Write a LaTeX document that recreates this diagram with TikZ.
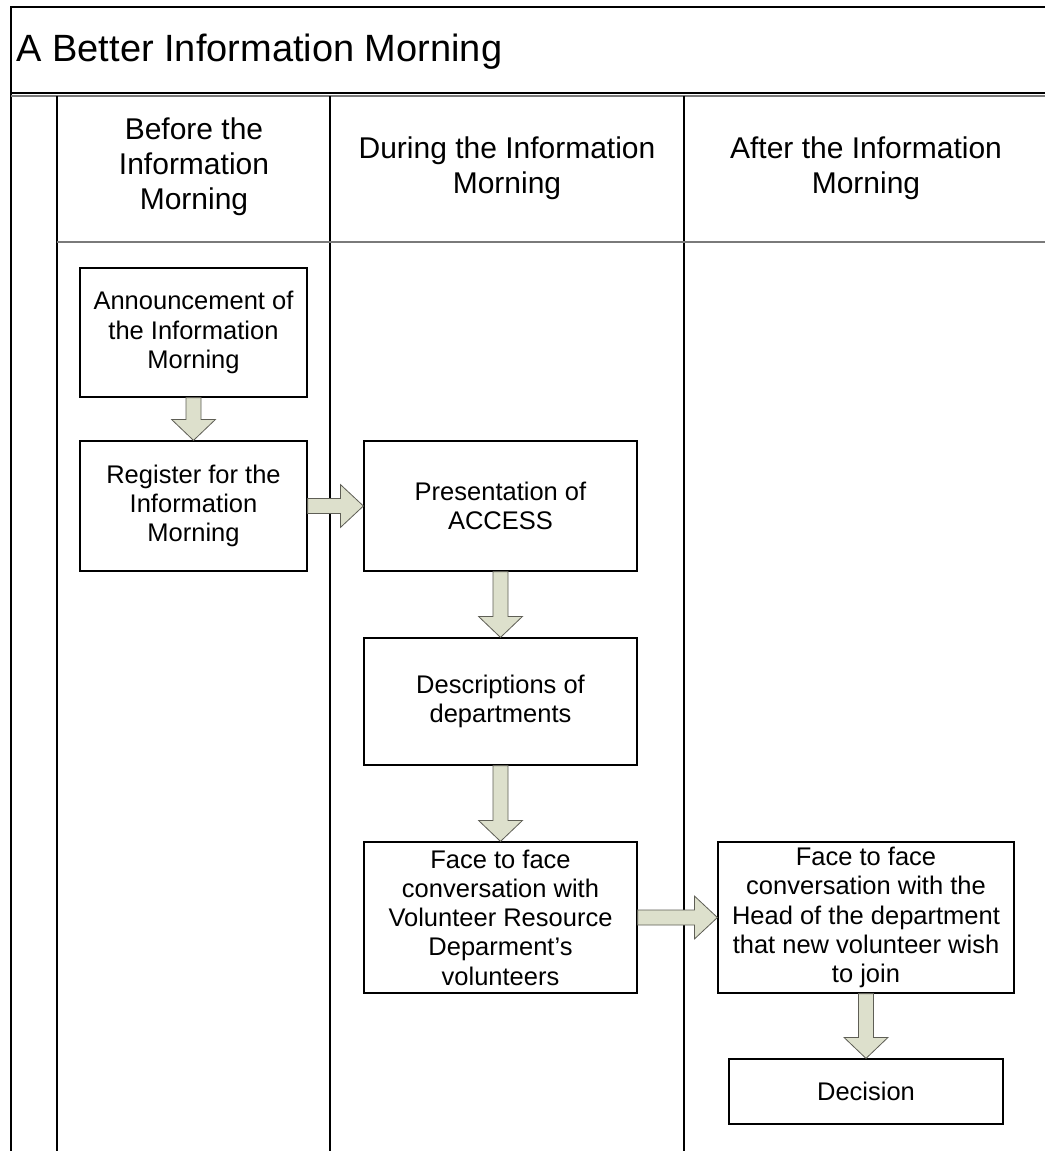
\documentclass[tikz,border=0pt]{standalone}
\usepackage{fontspec}
\setmainfont{Liberation Sans}
\usetikzlibrary{calc}
\definecolor{arrowfill}{HTML}{DDE0CC}
\definecolor{arrowedge}{HTML}{5E5E55}
\definecolor{rulegray}{HTML}{7A7A7A}
\tikzset{
  box/.style={draw=black, line width=1.2pt, fill=white, align=center, inner sep=0pt,
    font=\fontsize{25.5}{29.3}\selectfont},
  lanehead/.style={align=center, font=\fontsize{30}{35}\selectfont},
  blockarrow/.style={fill=arrowfill, draw=arrowedge, line width=0.8pt, line join=miter},
  frameline/.style={line width=1.8pt, black},
  laneline/.style={line width=1.6pt, black},
}
% wide block arrows between two named boxes
\newcommand\downblock[2]{%
  \path[blockarrow] let \p1=(#1.south), \p2=(#2.north) in
    (\x1-7.5pt,\y1) -- (\x1+7.5pt,\y1) -- (\x1+7.5pt,\y2+21pt) -- (\x1+22pt,\y2+21pt)
    -- (\x1,\y2) -- (\x1-22pt,\y2+21pt) -- (\x1-7.5pt,\y2+21pt) -- cycle;}
\newcommand\rightblock[2]{%
  \path[blockarrow] let \p1=(#1.east), \p2=(#2.west) in
    (\x1,\y1+7.5pt) -- (\x2-23pt,\y1+7.5pt) -- (\x2-23pt,\y1+21.5pt) -- (\x2,\y1)
    -- (\x2-23pt,\y1-21.5pt) -- (\x2-23pt,\y1-7.5pt) -- (\x1,\y1-7.5pt) -- cycle;}
\begin{document}
\begin{tikzpicture}[x=1pt,y=-1pt]
\useasboundingbox (0,0) rectangle (1045,1151);
\fill[white] (0,0) rectangle (1045,1151);

% outer frame and title band
\draw[frameline] (11,1151) -- (11,7) -- (1045,7);
\draw[frameline] (11,93) -- (1045,93);
\draw[line width=1.2pt, rulegray] (11,96) -- (1045,96);
\node[anchor=base west, font=\fontsize{38}{44}\selectfont] (title) at (13,61) {A Better Information Morning};

% lanes
\draw[laneline] (57,96) -- (57,1151);
\draw[laneline] (330,96) -- (330,1151);
\draw[laneline] (684,96) -- (684,1151);
\draw[line width=1.8pt, rulegray] (57,242) -- (1045,242);

\node[lanehead] (hbefore) at (194,167) {Before the\\Information\\Morning};
\node[lanehead] (hduring) at (507,168) {During the Information\\Morning};
\node[lanehead] (hafter) at (866,168) {After the Information\\Morning};

% process boxes
\node[box, minimum width=227, minimum height=129] (ann) at (193.5,332.5)
  {Announcement of\\the Information\\Morning};
\node[box, minimum width=227, minimum height=130] (reg) at (193.5,506)
  {Register for the\\Information\\Morning};
\node[box, minimum width=273, minimum height=130] (pres) at (500.5,506)
  {Presentation of\\ACCESS};
\node[box, minimum width=273, minimum height=127] (desc) at (500.5,701.5)
  {Descriptions of\\departments};
\node[box, minimum width=273, minimum height=151] (fvr) at (500.5,917.5)
  {Face to face\\conversation with\\Volunteer Resource\\Deparment’s\\volunteers};
\node[box, minimum width=296, minimum height=151] (fhd) at (866,917.5)
  {Face to face\\conversation with the\\Head of the department\\that new volunteer wish\\to join};
\node[box, minimum width=274, minimum height=65] (dec) at (866,1091.5) {Decision};

% flow
\downblock{ann}{reg}
\rightblock{reg}{pres}
\downblock{pres}{desc}
\downblock{desc}{fvr}
\rightblock{fvr}{fhd}
\downblock{fhd}{dec}
\end{tikzpicture}
\end{document}
